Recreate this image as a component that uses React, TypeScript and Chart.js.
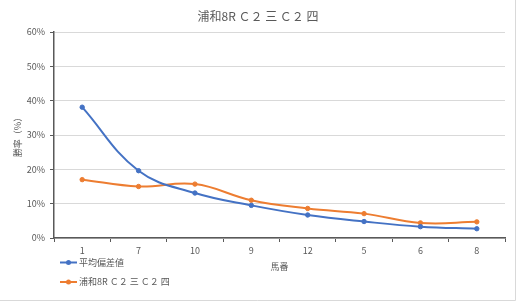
import React, { useEffect, useRef } from 'react';
import { Chart, registerables } from 'chart.js';

Chart.register(...registerables);

const chartTitle = '浦和8R Ｃ２ 三 Ｃ２ 四';
const categories = ['1', '7', '10', '9', '12', '5', '6', '8'];
const avgDeviation = [38.1, 19.6, 13.1, 9.5, 6.7, 4.8, 3.3, 2.7];
const raceRate = [17.0, 15.0, 15.7, 11.0, 8.6, 7.1, 4.4, 4.7];
const seriesNames = ['平均偏差値', '浦和8R Ｃ２ 三 Ｃ２ 四'];
const seriesColors = ['#4472C4', '#ED7D31'];
const yMin = 0;
const yMax = 60;
const yStep = 10;
const xTitle = '馬番';
const yTitle = '勝率（%）';

const FONT = '"Noto Sans CJK JP", "Noto Sans", sans-serif';
const GRAY = '#595959';

const decorPlugin = {
  id: 'decor',
  beforeDraw(chart: any) {
    const { ctx, width, height } = chart;
    ctx.save();
    ctx.fillStyle = '#ffffff';
    ctx.fillRect(0, 0, width, height);
    ctx.strokeStyle = '#d9d9d9';
    ctx.lineWidth = 1;
    ctx.beginPath();
    ctx.moveTo(515.5, 0);
    ctx.lineTo(515.5, 300.5);
    ctx.lineTo(0, 300.5);
    ctx.stroke();
    ctx.restore();
  },
  afterDraw(chart: any) {
    const { ctx } = chart;
    ctx.save();
    // title
    ctx.fillStyle = GRAY;
    ctx.font = `12px ${FONT}`;
    ctx.textAlign = 'center';
    ctx.textBaseline = 'middle';
    ctx.fillText(chartTitle, 258, 16);
    // legend
    ctx.font = `9px ${FONT}`;
    ctx.textAlign = 'left';
    chart.data.datasets.forEach((ds: any, i: number) => {
      const y = 262.5 + i * 19.5;
      ctx.strokeStyle = ds.borderColor;
      ctx.lineWidth = 2;
      ctx.beginPath();
      ctx.moveTo(60, y);
      ctx.lineTo(77, y);
      ctx.stroke();
      ctx.fillStyle = ds.borderColor;
      ctx.beginPath();
      ctx.arc(68.5, y, 2.5, 0, Math.PI * 2);
      ctx.fill();
      ctx.fillStyle = GRAY;
      ctx.fillText(ds.label, 79, y);
    });
    ctx.restore();
  },
};

export default function App() {
  const ref = useRef<HTMLCanvasElement>(null);
  useEffect(() => {
    if (!ref.current) return;
    const chart = new Chart(ref.current, {
      type: 'line',
      data: {
        labels: categories,
        datasets: [
          {
            label: seriesNames[0],
            data: avgDeviation,
            borderColor: seriesColors[0],
            backgroundColor: seriesColors[0],
            pointBackgroundColor: seriesColors[0],
            pointBorderColor: seriesColors[0],
            borderWidth: 2,
            pointRadius: 2.2,
            pointBorderWidth: 1,
            tension: 0.4,
          },
          {
            label: seriesNames[1],
            data: raceRate,
            borderColor: seriesColors[1],
            backgroundColor: seriesColors[1],
            pointBackgroundColor: seriesColors[1],
            pointBorderColor: seriesColors[1],
            borderWidth: 2,
            pointRadius: 2.2,
            pointBorderWidth: 1,
            tension: 0.4,
          },
        ],
      },
      options: {
        responsive: false,
        animation: false,
        layout: { padding: { left: 0, right: 12, top: 32, bottom: 0 } },
        plugins: {
          legend: { display: false },
          title: { display: false },
          tooltip: { enabled: false },
        },
        scales: {
          x: {
            type: 'category',
            offset: true,
            grid: {
              offset: true,
              drawOnChartArea: false,
              drawTicks: true,
              tickLength: 4,
              color: GRAY,
            },
            border: { color: GRAY, width: 1.5 },
            ticks: { color: GRAY, font: { size: 9, family: FONT }, padding: 3, maxRotation: 0 },
            title: {
              display: true,
              text: xTitle,
              color: GRAY,
              font: { size: 9, family: FONT },
              padding: { top: 0, bottom: 31 },
            },
            afterFit: (s: any) => {
              s.height = 65;
            },
          },
          y: {
            min: yMin,
            max: yMax,
            ticks: {
              stepSize: yStep,
              color: GRAY,
              font: { size: 9, family: FONT },
              padding: 5,
              callback: (v: any) => `${v}%`,
            },
            grid: {
              color: '#d9d9d9',
              drawTicks: true,
              tickLength: 4,
              tickColor: GRAY,
            },
            border: { color: GRAY, width: 1.5 },
            title: {
              display: true,
              text: yTitle,
              color: GRAY,
              font: { size: 9, family: FONT },
              padding: { top: 12.6, bottom: 0 },
            },
            afterFit: (s: any) => {
              s.width = 54;
            },
          },
        },
      },
      plugins: [decorPlugin],
    });
    return () => chart.destroy();
  }, []);
  return (
    <div style={{ position: 'fixed', left: 0, top: 0, width: 517, height: 303 }}>
      <canvas ref={ref} width={517} height={303} />
    </div>
  );
}
